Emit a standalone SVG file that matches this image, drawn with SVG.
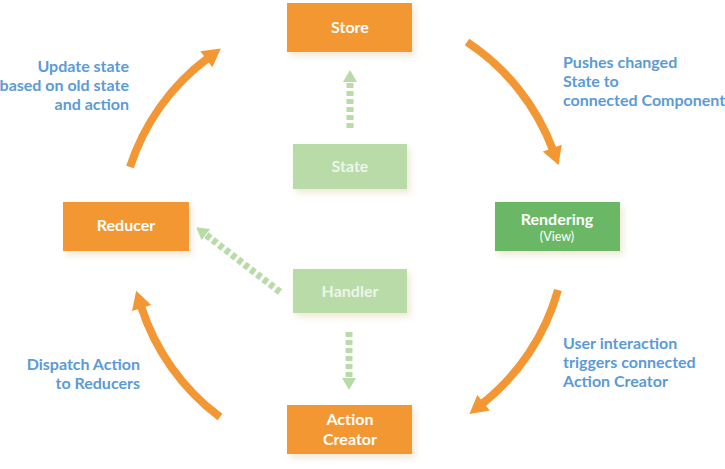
<svg xmlns="http://www.w3.org/2000/svg" width="725" height="469" viewBox="0 0 725 469">
<defs>
<filter id="sh" x="-20%" y="-20%" width="150%" height="160%">
<feDropShadow dx="3" dy="4" stdDeviation="3" flood-color="#c8a060" flood-opacity="0.25"/>
</filter>
<marker id="ah" markerUnits="userSpaceOnUse" markerWidth="20" markerHeight="20" viewBox="0 0 18 20" refX="2" refY="10" orient="auto">
<path d="M0,0 L18,10 L0,20 z" fill="#f29733"/>
</marker>
<marker id="gh" markerUnits="userSpaceOnUse" markerWidth="14" markerHeight="14" viewBox="0 0 12 14" refX="1" refY="7" orient="auto">
<path d="M0,0 L12,7 L0,14 z" fill="#b8dba8"/>
</marker>
</defs>
<style>
.o{fill:#f29733;filter:url(#sh)}
.g{fill:#6ab866;filter:url(#sh)}
.lg{fill:#b8dba8;filter:url(#sh)}
.t{font-family:Lato,"Liberation Sans",sans-serif;font-weight:bold;font-size:16px;fill:#ffffff;text-anchor:middle}
.tl{font-family:Lato,"Liberation Sans",sans-serif;font-weight:bold;font-size:16px;fill:#eef5ea;text-anchor:middle}
.b{font-family:Lato,"Liberation Sans",sans-serif;font-weight:bold;font-size:16px;fill:#5b9bd5}
.arc{fill:none;stroke:#f29733;stroke-width:8;marker-end:url(#ah)}
.dash{fill:none;stroke:#b8dba8;stroke-width:7;stroke-dasharray:5 3;marker-end:url(#gh)}
</style>
<g id="connectors">
<path class="arc" d="M467,42 A222,222 0 0 1 553,150"/>
<path class="arc" d="M558,290 A222,222 0 0 1 482,404"/>
<path class="arc" d="M220,417 A222,222 0 0 1 141,306"/>
<path class="arc" d="M130,167 A222,222 0 0 1 208,58"/>
<path class="dash" d="M350,128 L350,81"/>
<path class="dash" d="M349,332 L349,379"/>
<path class="dash" d="M280,292 L205,234"/>
</g>
<g id="store"><rect class="o" x="287" y="3" width="125" height="49"/><text class="t" x="350" y="33">Store</text></g>
<g id="state"><rect class="lg" x="293" y="144" width="114" height="45"/><text class="tl" x="350" y="172">State</text></g>
<g id="rendering"><rect class="g" x="495" y="202" width="125" height="49"/><text class="t" x="557" y="225">Rendering</text><text class="t" x="557" y="241" style="font-size:12.5px;font-weight:normal">(View)</text></g>
<g id="handler"><rect class="lg" x="293" y="269" width="114" height="44"/><text class="tl" x="350" y="297">Handler</text></g>
<g id="reducer"><rect class="o" x="63" y="202" width="126" height="49"/><text class="t" x="126" y="231">Reducer</text></g>
<g id="action-creator"><rect class="o" x="287" y="405" width="125" height="49"/><text class="t" x="350" y="425">Action</text><text class="t" x="350" y="445">Creator</text></g>
<g id="labels">
<text class="b" x="563" y="68">Pushes changed</text>
<text class="b" x="563" y="87">State to</text>
<text class="b" x="563" y="106">connected Component</text>
<text class="b" x="563" y="349">User interaction</text>
<text class="b" x="563" y="368">triggers connected</text>
<text class="b" x="563" y="387">Action Creator</text>
<text class="b" x="129" y="72" text-anchor="end">Update state</text>
<text class="b" x="129" y="91" text-anchor="end">based on old state</text>
<text class="b" x="129" y="110" text-anchor="end">and action</text>
<text class="b" x="140" y="370" text-anchor="end">Dispatch Action</text>
<text class="b" x="140" y="389" text-anchor="end">to Reducers</text>
</g>
</svg>
